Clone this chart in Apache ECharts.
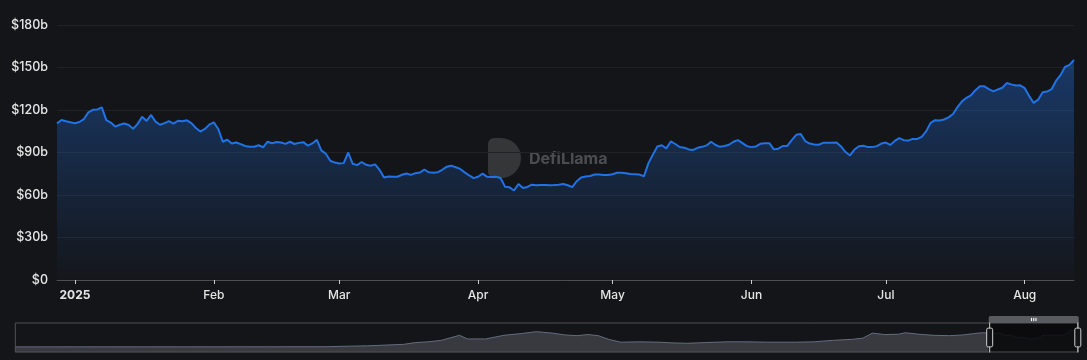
<!DOCTYPE html>
<html>
<head>
<meta charset="utf-8">
<script src="https://cdn.jsdelivr.net/npm/echarts@6/dist/echarts.min.js"></script>
<style>
html,body{margin:0;padding:0;background:#141518;}
#chart{width:1087px;height:360px;}
</style>
</head>
<body>
<div id="chart"></div>
<script>
// Daily series start date (window shown in the main plot)
const startDate = '2024-12-28';
// Daily values, $ billions
const dailyValues = [
110.6,112.9,112.0,111.3,110.7,111.5,113.6,118.3,120.1,120.4,
121.8,112.8,111.1,108.3,109.6,110.5,109.4,106.8,110.2,115.3,
112.3,116.5,111.8,109.6,110.7,112.1,110.4,112.4,112.0,112.7,
110.7,107.3,104.8,106.6,109.7,111.3,106.6,97.6,99.0,96.4,
97.1,95.9,94.6,94.1,94.1,95.1,93.7,97.6,96.5,97.4,
97.0,96.1,97.6,96.0,96.8,97.3,94.8,96.4,98.9,91.5,
89.1,84.2,82.9,82.3,82.5,90.0,82.0,81.1,83.3,81.3,
80.6,81.6,77.8,72.3,73.1,72.9,72.9,74.3,75.2,74.2,
75.4,75.8,78.0,76.0,75.7,76.1,77.8,80.0,80.7,79.6,
78.4,76.0,73.8,71.9,72.9,75.1,72.8,72.7,72.9,72.0,
65.9,65.4,63.2,67.7,64.9,65.7,67.3,66.9,67.0,67.0,
66.8,67.0,67.3,67.8,66.9,65.5,69.7,72.4,73.1,73.4,
74.5,74.4,74.1,74.1,74.7,75.7,75.7,75.4,74.8,74.7,
74.4,73.2,82.3,88.5,94.3,95.1,92.9,97.8,96.0,93.9,
93.4,92.2,91.8,93.3,94.0,95.0,97.6,95.3,94.0,94.6,
95.5,97.6,98.7,96.6,94.5,93.8,94.3,96.1,96.5,96.6,
92.2,92.7,94.6,94.6,98.7,102.5,103.0,98.1,96.3,95.7,
95.5,96.8,96.9,96.8,97.1,94.3,90.3,87.9,92.1,94.4,
94.8,93.8,93.8,94.5,96.3,97.0,95.3,98.2,100.1,98.7,
98.4,99.6,99.6,101.0,105.0,110.9,112.8,112.6,113.3,114.8,
117.2,122.0,126.1,128.6,130.4,134.0,136.7,136.7,134.8,133.1,
134.5,135.7,139.0,138.1,137.3,137.4,135.4,129.8,125.0,127.3,
132.6,133.0,134.7,140.7,144.6,150.5,151.9,155.3
];
// Earlier history (coarse, read from the zoom slider preview)
const histDates = ['2018-04-11','2019-01-01','2020-01-01','2020-06-01','2020-08-01','2020-09-15','2020-11-01','2020-12-15',
'2021-01-15','2021-02-15','2021-03-20','2021-05-05','2021-05-25','2021-07-10','2021-08-25','2021-10-10','2021-11-15','2021-12-25',
'2022-01-25','2022-02-25','2022-03-25','2022-04-20','2022-05-15','2022-06-15','2022-08-01','2022-09-20','2022-10-25','2022-12-01',
'2023-01-15','2023-03-10','2023-05-01','2023-06-20','2023-08-30','2023-10-15','2023-11-30',
'2024-01-20','2024-02-15','2024-03-10','2024-04-10','2024-05-15','2024-06-01','2024-07-05','2024-08-10','2024-09-20','2024-10-25','2024-11-20','2024-12-15'];
const histValues = [0.3,0.5,0.7,1.5,6,9,15,21,
36,42,54,96,66,66,96,111,126,114,
99,93,102,93,63,39,42,39,33,30,
36,42,42,39,39,42,54,
63,72,114,102,105,117,105,96,93,99,110,118];
const yTicks = [0,30,60,90,120,150,180];

function addDays(s, n){
  const d = new Date(s + 'T00:00:00Z');
  d.setUTCDate(d.getUTCDate() + n);
  return d.toISOString().slice(0,10);
}
const dailyDates = dailyValues.map((v,i)=>addDays(startDate,i));
const data = histDates.map((d,i)=>[d, histValues[i]]).concat(dailyDates.map((d,i)=>[d, dailyValues[i]]));

const chart = echarts.init(document.getElementById('chart'), null, {renderer:'canvas'});
const labelColor = '#e6e6e6';
chart.setOption({
  backgroundColor: '#141518',
  animation: false,
  grid: {left: 57, right: 13, top: 25, bottom: 80},
  xAxis: {
    type: 'time',
    boundaryGap: false,
    splitNumber: 8,
    axisLine: {lineStyle: {color: '#4d4e52'}},
    axisTick: {show: true, length: 4, lineStyle: {color: '#cfcfcf'}},
    axisLabel: {color: labelColor, fontFamily: 'Inter', fontSize: 12, fontWeight: 500, margin: 9, hideOverlap: true},
    splitLine: {show: false}
  },
  yAxis: {
    type: 'value',
    min: yTicks[0], max: yTicks[yTicks.length-1], interval: 30,
    axisLine: {show: false},
    axisTick: {show: false},
    axisLabel: {color: labelColor, fontFamily: 'Inter', fontSize: 12.5, fontWeight: 500, margin: 9,
      formatter: v => v === 0 ? '$0' : '$' + v + 'b'},
    splitLine: {lineStyle: {color: '#202226', width: 1}}
  },
  dataZoom: [
    {type: 'inside', startValue: startDate, endValue: dailyDates[dailyDates.length-1]},
    {type: 'slider', startValue: startDate, endValue: dailyDates[dailyDates.length-1],
     left: 12, right: 11, top: 316, height: 30,
     showDetail: false, brushSelect: true,
     backgroundColor: 'rgba(0,0,0,0)',
     borderColor: '#505155',
     fillerColor: 'rgba(0,0,0,0.45)',
     dataBackground: {lineStyle: {color: '#646c80', width: 1, opacity: 1}, areaStyle: {color: '#383a40', opacity: 1}},
     selectedDataBackground: {lineStyle: {color: '#2e3036', width: 1}, areaStyle: {color: '#1b1c20', opacity: 1}},
     handleStyle: {color: '#141518', borderColor: '#d0d0d0', borderWidth: 1},
     moveHandleSize: 7,
     moveHandleStyle: {color: '#5a5b5f', opacity: 1},
     emphasis: {moveHandleStyle: {color: '#5a5b5f'}}
    }
  ],
  graphic: [
    {type: 'rect', left: 488, top: 138, z: 0, shape: {width: 33, height: 40, r: [6, 20, 20, 6]},
     style: {fill: 'rgba(255,255,255,0.14)'}},
    {type: 'text', left: 529, top: 151, z: 0,
     style: {text: 'DefiLlama', fill: 'rgba(255,255,255,0.24)', font: 'bold 16px Inter'}}
  ],
  series: [{
    type: 'line',
    data: data,
    showSymbol: false,
    symbol: 'none',
    smooth: false,
    lineStyle: {color: '#2172E5', width: 2},
    itemStyle: {color: '#2172E5'},
    areaStyle: {
      color: new echarts.graphic.LinearGradient(0, 0, 0, 1, [
        {offset: 0, color: 'rgba(33,114,229,0.55)'},
        {offset: 1, color: 'rgba(33,114,229,0.02)'}
      ])
    },
    z: 2
  }]
});
</script>
</body>
</html>
